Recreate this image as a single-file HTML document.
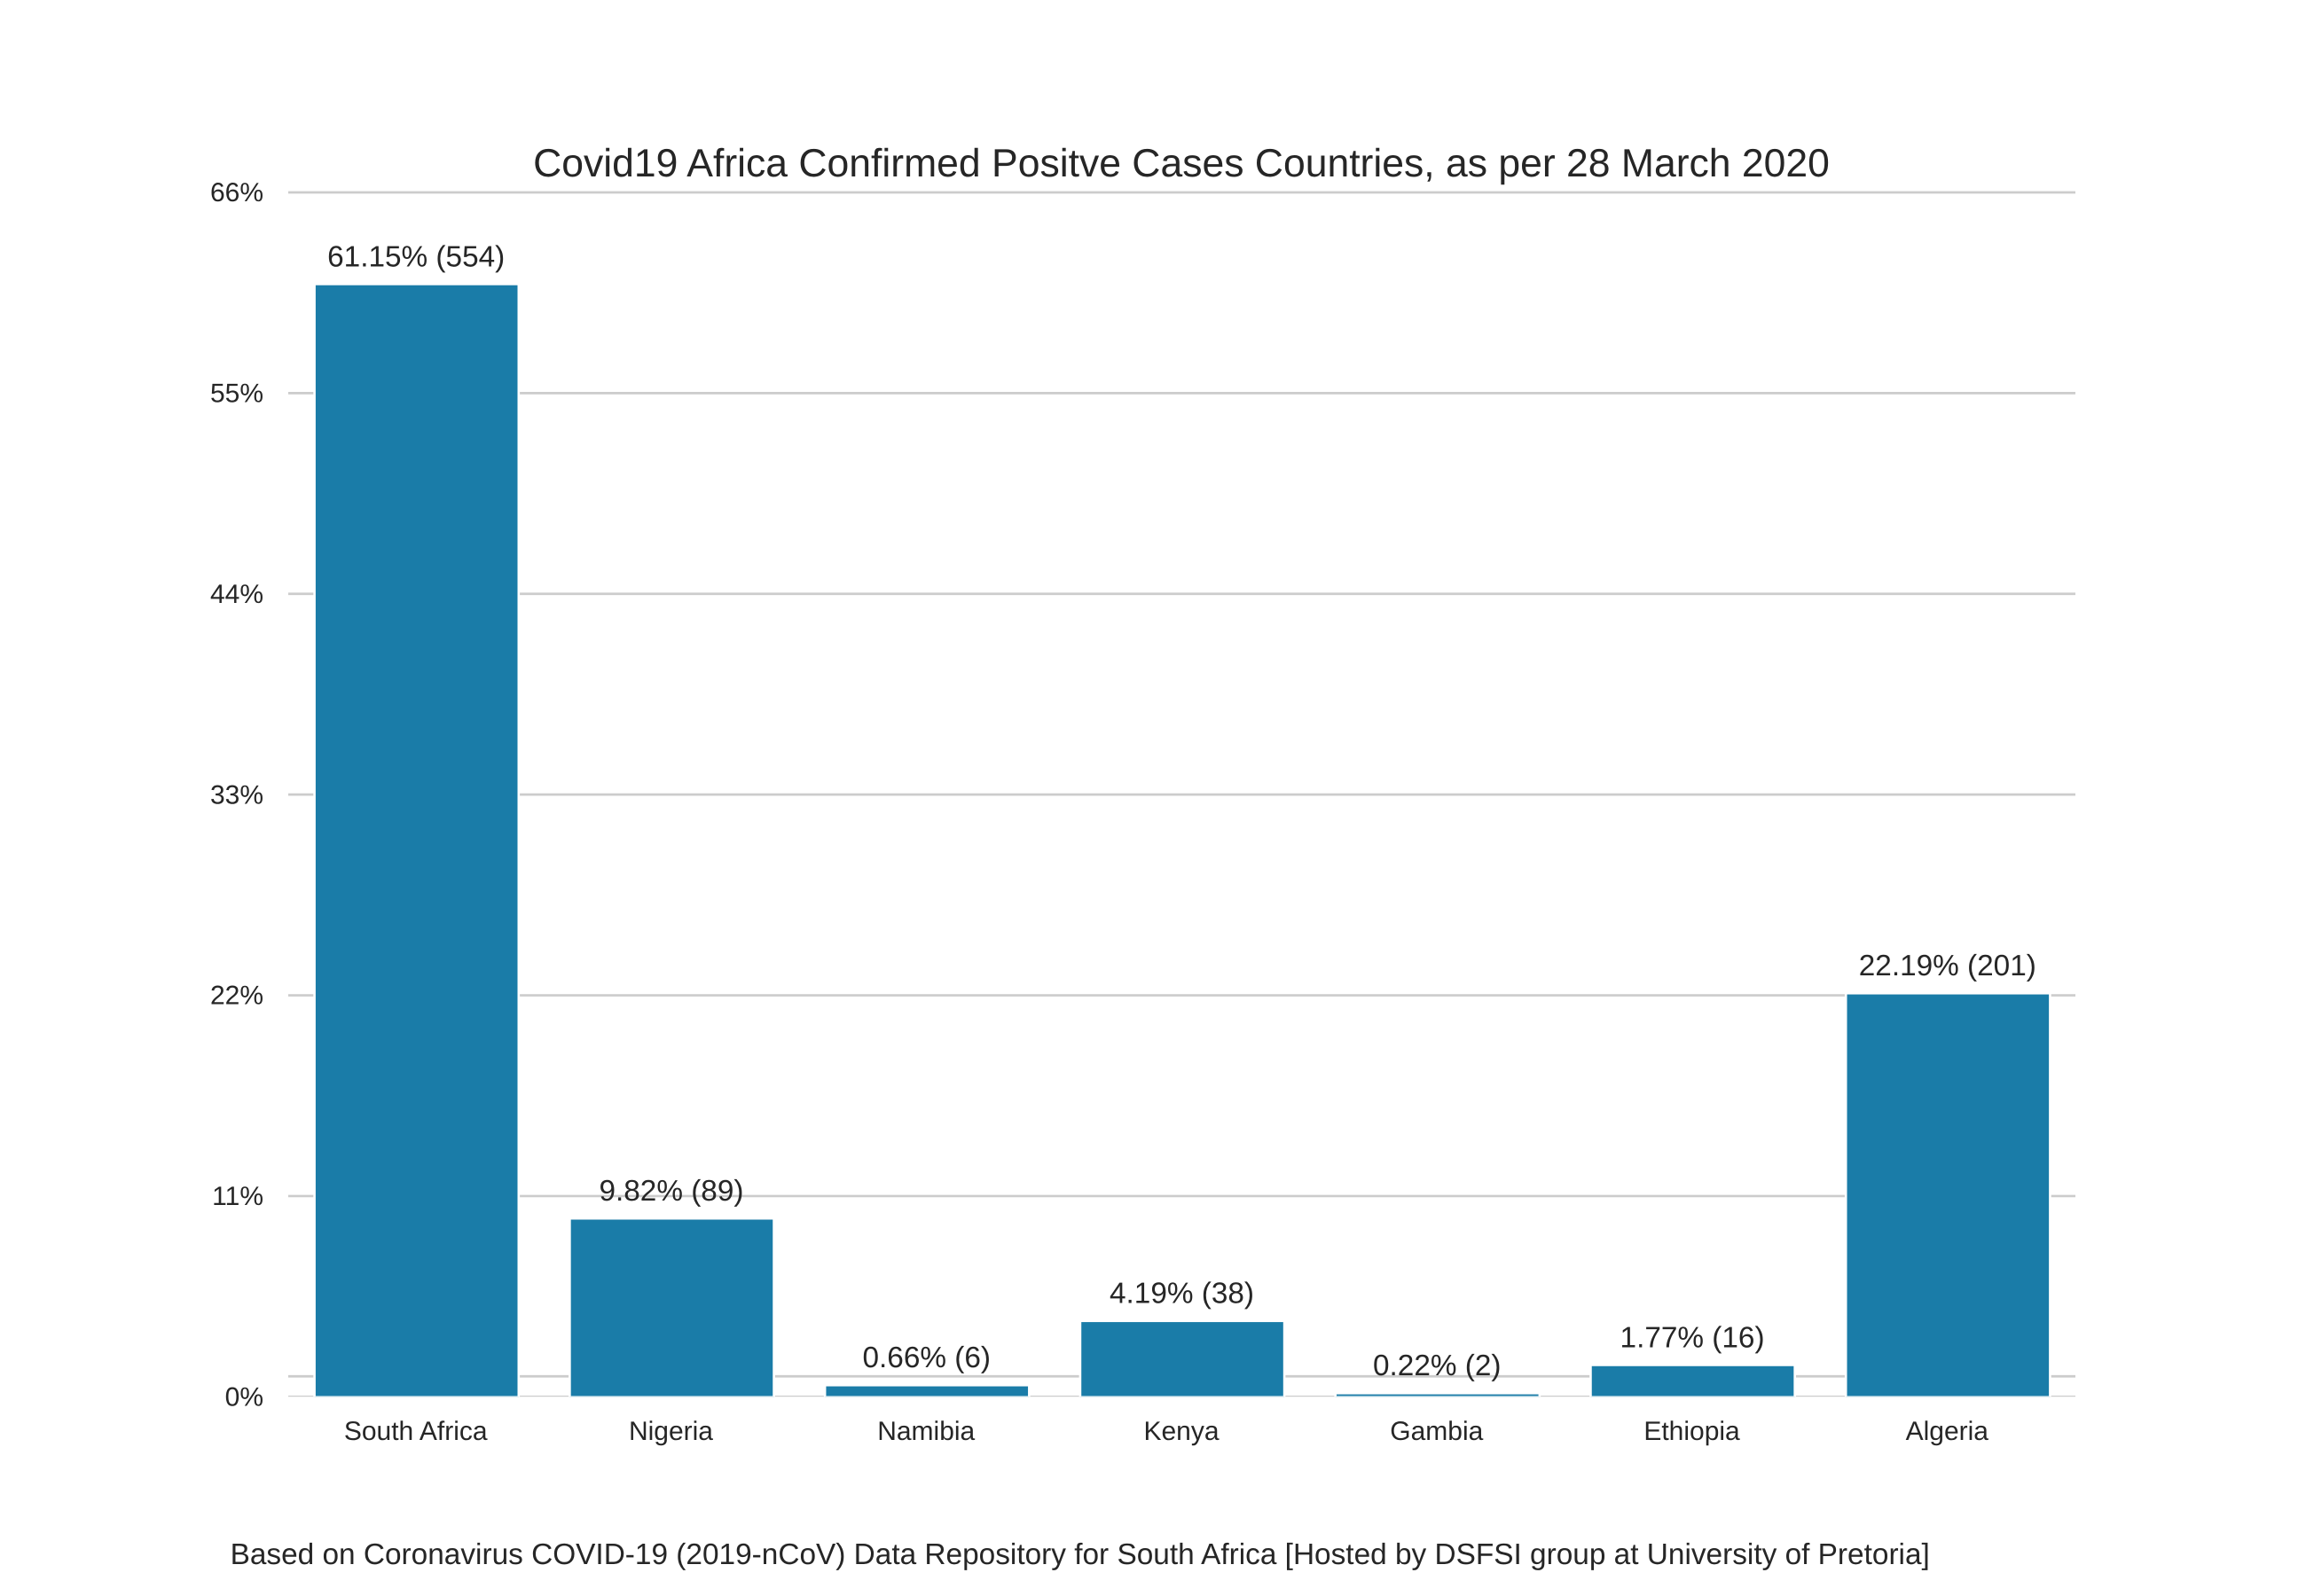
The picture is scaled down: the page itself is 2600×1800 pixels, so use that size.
<!DOCTYPE html>
<html lang="en">
<head>
<meta charset="utf-8">
<title>Covid19 Africa Confirmed Positive Cases</title>
<style>
  html, body { margin: 0; padding: 0; background: #ffffff; }
  body { width: 2600px; height: 1800px; overflow: hidden; }
  svg { display: block; }
  text { font-family: "Liberation Sans", Arial, sans-serif; fill: #262626; text-rendering: geometricPrecision; }
</style>
</head>
<body>
<svg id="chart" xmlns="http://www.w3.org/2000/svg" width="2600" height="1800" viewBox="0 0 2600 1800">
  <rect x="0" y="0" width="2600" height="1800" fill="#ffffff"/>
  <defs>
    <clipPath id="plot-clip"><rect x="325" y="200" width="2015" height="1375.3"/></clipPath>
  </defs>
  <g id="grid" clip-path="url(#plot-clip)"></g>
  <g id="bars" clip-path="url(#plot-clip)"></g>
  <g id="y-labels"></g>
  <g id="x-labels"></g>
  <g id="value-labels"></g>
  <text x="1332" y="199" font-size="44.5" text-anchor="middle">Covid19 Africa Confirmed Positve Cases Countries, as per 28 March 2020</text>
  <text x="259.6" y="1764" font-size="33.39">Based on Coronavirus COVID-19 (2019-nCoV) Data Repository for South Africa [Hosted by DSFSI group at University of Pretoria]</text>
</svg>
<script>
const categories = ["South Africa", "Nigeria", "Namibia", "Kenya", "Gambia", "Ethiopia", "Algeria"];
const percentValues = [61.15, 9.82, 0.66, 4.19, 0.22, 1.77, 22.19];
const caseCounts = [554, 89, 6, 38, 2, 16, 201];
const yTickValues = [0, 11, 22, 33, 44, 55, 66];
const unlabeledGridValues = [1.12];

const NS = "http://www.w3.org/2000/svg";
const BAR_COLOR = "#1a7ca8";

function xCenter(index) { return 469.7 + index * 287.77; }
function axisY(value) { return 1575.3 - value * 20.58; }
function barY(value) { return 1575.8 - value * 20.53; }

function make(tag, parent) {
  const el = document.createElementNS(NS, tag);
  parent.appendChild(el);
  return el;
}

function drawGridLine(parent, value, name) {
  const line = make("line", parent);
  
  
  line.setAttribute("x1", 325);
  line.setAttribute("x2", 2340);
  line.setAttribute("y1", axisY(value));
  line.setAttribute("y2", axisY(value));
  line.setAttribute("stroke", "#cccccc");
  line.setAttribute("stroke-width", 2.7);
}

const gridGroup = document.getElementById("grid");
const yLabelGroup = document.getElementById("y-labels");
yTickValues.forEach(function (value) {
  drawGridLine(gridGroup, value, "gridline-" + value);
  const label = make("text", yLabelGroup);
  
  
  label.setAttribute("x", 297);
  label.setAttribute("y", axisY(value) + 10.2);
  label.setAttribute("font-size", 30);
  label.setAttribute("text-anchor", "end");
  label.textContent = value + "%";
});
unlabeledGridValues.forEach(function (value) {
  drawGridLine(gridGroup, value, "gridline-unlabeled");
});

const barGroup = document.getElementById("bars");
const xLabelGroup = document.getElementById("x-labels");
const valueGroup = document.getElementById("value-labels");
categories.forEach(function (category, i) {
  const slug = category.toLowerCase().replace(/\s+/g, "-");
  const center = xCenter(i);
  const top = barY(percentValues[i]);

  const bar = make("rect", barGroup);
  
  
  bar.setAttribute("x", center - 115.1);
  bar.setAttribute("y", top);
  bar.setAttribute("width", 230.2);
  bar.setAttribute("height", barY(0) - top);
  bar.setAttribute("fill", BAR_COLOR);
  bar.setAttribute("stroke", "#ffffff");
  bar.setAttribute("stroke-width", 2.6);

  const xLabel = make("text", xLabelGroup);
  
  
  xLabel.setAttribute("x", center - 1);
  xLabel.setAttribute("y", 1624);
  xLabel.setAttribute("font-size", 30);
  xLabel.setAttribute("text-anchor", "middle");
  xLabel.textContent = category;

  const valueLabel = make("text", valueGroup);
  
  
  valueLabel.setAttribute("x", center - 0.5);
  valueLabel.setAttribute("y", top + 1.3 - 21.4);
  valueLabel.setAttribute("font-size", 33.33);
  valueLabel.setAttribute("text-anchor", "middle");
  valueLabel.textContent = percentValues[i].toFixed(2) + "% (" + caseCounts[i] + ")";
});
</script>
</body>
</html>
